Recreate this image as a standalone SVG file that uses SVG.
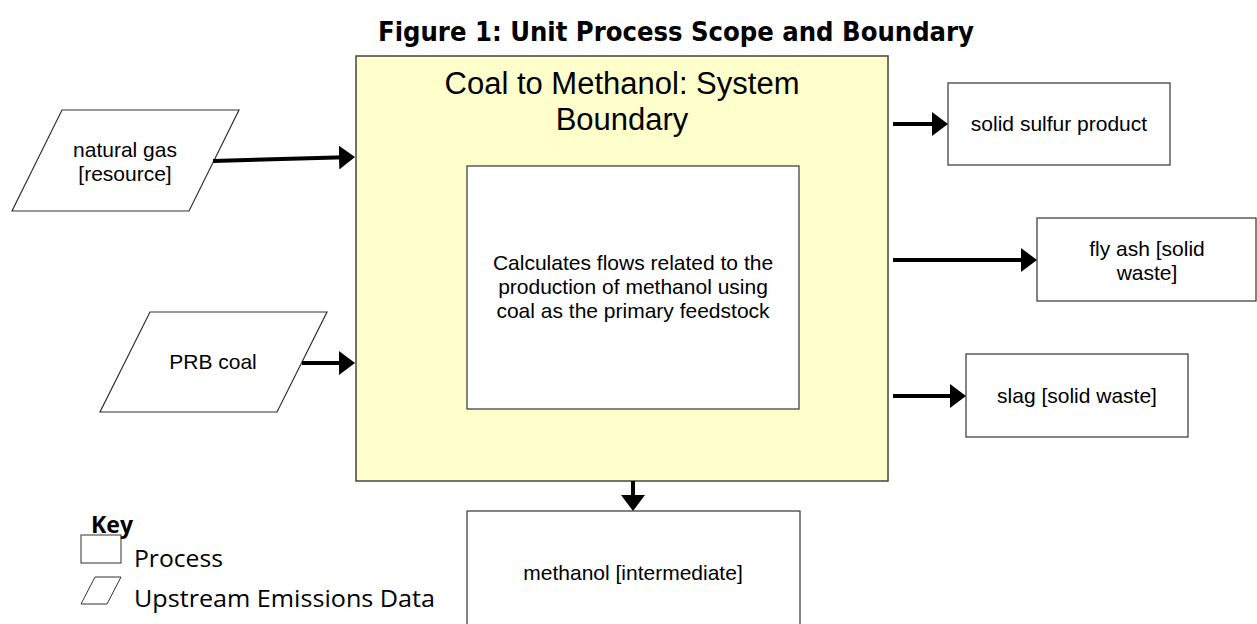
<svg xmlns="http://www.w3.org/2000/svg" width="1257" height="624" viewBox="0 0 1257 624">
  <style>
    .lbl { font-family: "Liberation Sans", Arial, sans-serif; font-size: 21px; fill: #000; text-anchor: middle; }
    .box { fill: #fff; stroke: #333; stroke-width: 1.2; }
    .arrow { stroke: #000; stroke-width: 4; fill: none; marker-end: url(#ah); }
    .key { font-family: "Open Sans", "Liberation Sans", sans-serif; font-size: 24px; fill: #000; }
  </style>
  <defs>
    <marker id="ah" viewBox="0 0 16 24" refX="6" refY="12" markerWidth="16" markerHeight="24" markerUnits="userSpaceOnUse" orient="auto">
      <path d="M0,0 L16,12 L0,24 z" fill="#000"/>
    </marker>
  </defs>
  <rect width="1257" height="624" fill="#fff"/>

  <text x="676" y="41" font-family="'DejaVu Sans', Verdana, sans-serif" font-weight="bold" font-size="26" text-anchor="middle" textLength="596" lengthAdjust="spacingAndGlyphs">Figure 1: Unit Process Scope and Boundary</text>

  <g id="boundary">
    <rect x="356" y="56" width="532" height="425" fill="#ffffcc" stroke="#444" stroke-width="1.5"/>
    <text class="lbl" x="622" y="94" style="font-size:31px">Coal to Methanol: System</text>
    <text class="lbl" x="622" y="130" style="font-size:31px">Boundary</text>
  </g>

  <g id="process">
    <rect class="box" x="467" y="166" width="332" height="243"/>
    <text class="lbl" x="633" y="270">Calculates flows related to the</text>
    <text class="lbl" x="633" y="294">production of methanol using</text>
    <text class="lbl" x="633" y="318">coal as the primary feedstock</text>
  </g>

  <g id="natural-gas">
    <polygon class="box" points="62,110 239,110 189,211 12,211"/>
    <text class="lbl" x="125" y="157">natural gas</text>
    <text class="lbl" x="125" y="181">[resource]</text>
  </g>

  <g id="prb-coal">
    <polygon class="box" points="150,312 327,312 277,412 100,412"/>
    <text class="lbl" x="213" y="369">PRB coal</text>
  </g>

  <g id="solid-sulfur">
    <rect class="box" x="948" y="83" width="222" height="82"/>
    <text class="lbl" x="1059" y="131">solid sulfur product</text>
  </g>

  <g id="fly-ash">
    <rect class="box" x="1037" y="218" width="219" height="83"/>
    <text class="lbl" x="1147" y="256">fly ash [solid</text>
    <text class="lbl" x="1147" y="280">waste]</text>
  </g>

  <g id="slag">
    <rect class="box" x="966" y="354" width="222" height="83"/>
    <text class="lbl" x="1077" y="403">slag [solid waste]</text>
  </g>

  <g id="methanol">
    <rect class="box" x="467" y="511" width="333" height="130"/>
    <text class="lbl" x="633" y="580">methanol [intermediate]</text>
  </g>

  <g id="connectors">
    <path class="arrow" d="M213,161 L345,157.3"/>
    <path class="arrow" d="M302,363 L345,363"/>
    <path class="arrow" d="M893,124 L938,124"/>
    <path class="arrow" d="M893,260 L1027,260"/>
    <path class="arrow" d="M893,396 L956,396"/>
    <path class="arrow" d="M633,481 L633,501"/>
  </g>

  <g id="key">
    <text class="key" x="91" y="533" font-weight="bold" style="font-size:23px" textLength="42" lengthAdjust="spacingAndGlyphs">Key</text>
    <rect x="81" y="535" width="40" height="28" fill="none" stroke="#333" stroke-width="1"/>
    <text class="key" x="134" y="567" textLength="89" lengthAdjust="spacingAndGlyphs">Process</text>
    <polygon points="95,577 121,577 107,604 81,604" fill="none" stroke="#333" stroke-width="1"/>
    <text class="key" x="134" y="607" textLength="301" lengthAdjust="spacingAndGlyphs">Upstream Emissions Data</text>
  </g>
</svg>
